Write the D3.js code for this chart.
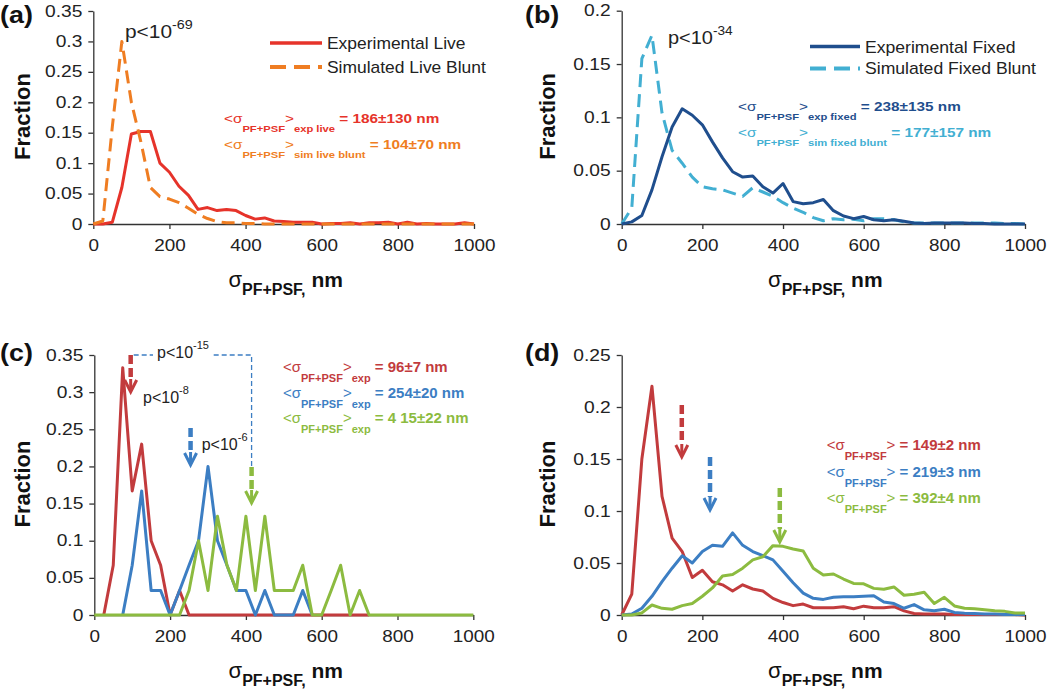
<!DOCTYPE html>
<html>
<head>
<meta charset="utf-8">
<title>Fraction vs sigma PF+PSF</title>
<script src="https://d3js.org/d3.v7.min.js"></script>
<style>
body { margin: 0; background: #fff; }
text { font-family: "Liberation Sans", Arial, Helvetica, sans-serif; fill: #222; white-space: pre; }
.axis path, .axis line { stroke: #333; stroke-width: 1.3; }
.axis text { font-size: 16px; fill: #222; }
.curve { fill: none; stroke-width: 3; stroke-linejoin: round; }
</style>
</head>
<body>
<script>
// 25 nm bins shared by every histogram
var bins = [0, 25, 50, 75, 100, 125, 150, 175, 200, 225, 250, 275, 300, 325, 350, 375, 400,
            425, 450, 475, 500, 525, 550, 575, 600, 625, 650, 675, 700, 725, 750, 775, 800,
            825, 850, 875, 900, 925, 950, 975, 1000];

var xTicks = [0, 200, 400, 600, 800, 1000];
var yTicksA = [0, 0.05, 0.1, 0.15, 0.2, 0.25, 0.3, 0.35];
var yTicksB = [0, 0.05, 0.1, 0.15, 0.2];
var yTicksC = [0, 0.05, 0.1, 0.15, 0.2, 0.25, 0.3, 0.35];
var yTicksD = [0, 0.05, 0.1, 0.15, 0.2, 0.25];

// (a)
var expLive = [0, 0, 0.003, 0.06, 0.148, 0.152, 0.152, 0.1, 0.085, 0.062, 0.047, 0.024, 0.027,
               0.022, 0.024, 0.022, 0.014, 0.008, 0.01, 0.005, 0.004, 0.003, 0.003, 0.003, 0,
               0.001, 0.001, 0.002, 0, 0.002, 0.002, 0.003, 0, 0.003, 0, 0.001, 0, 0, 0, 0.002, 0];
var simLive = [0, 0.005, 0.16, 0.3, 0.2, 0.135, 0.06, 0.045, 0.041, 0.035, 0.026, 0.016, 0.009,
               0.004, 0.002, 0.002, 0.001, 0.001, 0, 0, 0, 0, 0, 0, 0, 0, 0, 0, 0, 0, 0, 0, 0,
               0, 0, 0, 0, 0, 0, 0, 0];
// (b)
var expFixed = [0, 0.002, 0.008, 0.032, 0.063, 0.091, 0.108, 0.102, 0.093, 0.077, 0.062, 0.049,
                0.044, 0.045, 0.035, 0.029, 0.038, 0.021, 0.019, 0.02, 0.023, 0.0125, 0.0075,
                0.005, 0.007, 0.004, 0.003, 0.004, 0.0025, 0.001, 0.0005, 0.001, 0.001, 0.001,
                0.001, 0.0005, 0.0005, 0, 0, 0, 0];
var simFixed = [0, 0.015, 0.155, 0.177, 0.104, 0.069, 0.057, 0.044, 0.035, 0.033, 0.032, 0.029,
                0.026, 0.034, 0.03, 0.026, 0.02, 0.015, 0.011, 0.006, 0.003, 0.005, 0.004, 0.0045,
                0.003, 0.005, 0.005, 0.004, 0.002, 0.001, 0.001, 0.001, 0.001, 0.001, 0.001,
                0.001, 0.001, 0.001, 0.0005, 0.0005, 0];
// (c)
var cRed = [null, 0, 0.067, 0.333, 0.167, 0.23, 0.1, 0.067, 0, 0.033, 0, 0, 0, 0, 0, 0, 0, 0,
            0, 0, 0, 0, 0, 0, 0, 0, 0, 0, 0, 0, null, null, null, null, null, null, null, null,
            null, null, null];
var cBlue = [null, null, null, 0, 0.067, 0.167, 0.033, 0.033, 0, 0.033, 0.067, 0.1, 0.2, 0.1,
             0.067, 0.033, 0.033, 0, 0.033, 0, 0, 0, 0.033, 0, null, null, null, null, null,
             null, null, null, null, null, null, null, null, null, null, null, null];
var cGreen = [0, 0, 0, 0, 0, 0, 0, 0, 0, 0, 0.033, 0.1, 0.033, 0.133, 0.067, 0.033, 0.133, 0.033,
              0.133, 0.033, 0.033, 0.033, 0.067, 0, 0, 0.033, 0.067, 0, 0.033, 0, 0, 0, 0, 0, 0,
              0, 0, 0, 0, 0, 0];
// (d)
var dRed = [0, 0.02, 0.15, 0.22, 0.114, 0.074, 0.061, 0.036, 0.043, 0.032, 0.029, 0.023, 0.029,
            0.025, 0.023, 0.016, 0.012, 0.009, 0.0105, 0.007, 0.007, 0.007, 0.008, 0.006, 0.0085,
            0.007, 0.007, 0.008, 0.004, 0.0015, 0.001, 0.001, 0.001, 0.0005, 0.0005, 0.0005,
            0.0005, 0.0005, 0.0005, 0.0005, 0];
var dBlue = [0, 0.001, 0.0065, 0.018, 0.032, 0.045, 0.057, 0.05, 0.061, 0.067, 0.066, 0.079,
             0.067, 0.061, 0.057, 0.053, 0.042, 0.031, 0.021, 0.016, 0.015, 0.017, 0.0175,
             0.0175, 0.018, 0.0185, 0.0125, 0.011, 0.0065, 0.01, 0.005, 0.004, 0.0055, 0.0025,
             0.0018, 0.0015, 0.001, 0.001, 0.0005, 0.0005, 0.0005];
var dGreen = [0, 0, 0.002, 0.0096, 0.0064, 0.0055, 0.009, 0.011, 0.018, 0.026, 0.0375, 0.039,
              0.045, 0.053, 0.056, 0.0667, 0.066, 0.0635, 0.0615, 0.045, 0.0385, 0.0394, 0.0346,
              0.0304, 0.03, 0.0256, 0.0247, 0.027, 0.019, 0.02, 0.0218, 0.011, 0.017, 0.0087,
              0.0065, 0.006, 0.005, 0.004, 0.0035, 0.002, 0.002];

var legendA = ["Experimental Live", "Simulated Live Blunt"];
var legendB = ["Experimental Fixed", "Simulated Fixed Blunt"];
var meansC = [96, 254, 415];
var meansD = [149, 219, 392];

var RED = "#e6332a", ORANGE = "#ef7d22", NAVY = "#1f4e8d", SKY = "#42afd2";
var BRICK = "#c23b3d", BLUE = "#3c7ec3", GREEN = "#8cbb40";

var svg = d3.select("body").append("svg")
    .attr("width", 1050)
    .attr("height", 691);

var fmtY = d3.format("~g"),
    fmtX = d3.format("d");

// draws a <text> made of tspans, optionally stretched horizontally
function rich(parent, x, y, parts, sx, anchor) {
  var g = parent.append("g")
      .attr("transform", "translate(" + x + "," + y + ") scale(" + (sx || 1) + ",1)");
  var t = g.append("text").attr("text-anchor", anchor || "start");
  parts.forEach(function(p) {
    t.append("tspan")
      .attr("dy", p.dy || 0)
      .style("font-size", p.size + "px")
      .style("font-weight", p.bold ? "bold" : "normal")
      .style("fill", p.color || "#222")
      .text(p.text);
  });
  return g;
}

function meanLabel(parent, x, y, color, sub, value, big, small, sx) {
  var parts = [
    {text: "<σ", size: big, color: color},
    {text: "PF+PSF", size: small, bold: true, color: color, dy: 10},
    {text: ">", size: big, color: color, dy: -10}
  ];
  if (sub) {
    parts.push({text: sub, size: small, bold: true, color: color, dy: 10});
    parts.push({text: " = " + value, size: big, bold: true, color: color, dy: -10});
  } else {
    parts.push({text: " = " + value, size: big, bold: true, color: color});
  }
  rich(parent, x, y, parts, sx);
}

function pValue(parent, x, y, exp, size, sx) {
  rich(parent, x, y, [
    {text: "p<10", size: size},
    {text: exp, size: Math.round(size * 0.68), dy: -9}
  ], sx);
}

function arrow(parent, x, yTop, yTip, color) {
  parent.append("line")
    .attr("x1", x).attr("x2", x).attr("y1", yTop).attr("y2", yTip - 13)
    .attr("stroke", color).attr("stroke-width", 4.5).attr("stroke-dasharray", "9,4");
  parent.append("line")
    .attr("x1", x).attr("x2", x).attr("y1", yTip - 13).attr("y2", yTip - 1)
    .attr("stroke", color).attr("stroke-width", 3);
  parent.append("path")
    .attr("d", "M" + (x - 6) + "," + (yTip - 12) + "L" + x + "," + yTip + "L" + (x + 6) + "," + (yTip - 12))
    .attr("fill", "none").attr("stroke", color).attr("stroke-width", 3);
}

function panel(p) {
  var x = d3.scaleLinear().domain([0, 1000]).range([p.left, p.right]);
  var y = d3.scaleLinear().domain([0, p.yMax]).range([p.bottom, p.top]);
  var g = svg.append("g");

  g.append("g").attr("class", "axis")
      .attr("transform", "translate(0," + p.bottom + ")")
      .call(d3.axisBottom(x).tickValues(xTicks).tickFormat(fmtX).tickSize(5).tickSizeOuter(0).tickPadding(11))
    .selectAll("text")
      .attr("transform", "scale(1.18,1)");

  g.append("g").attr("class", "axis")
      .attr("transform", "translate(" + p.left + ",0)")
      .call(d3.axisLeft(y).tickValues(p.yTicks).tickFormat(fmtY).tickSize(5).tickSizeOuter(0))
    .selectAll("text")
      .attr("x", -11 / 1.2)
      .attr("transform", "scale(1.2,1)");

  var line = d3.line()
      .defined(function(d) { return d[1] !== null; })
      .x(function(d) { return x(d[0]); })
      .y(function(d) { return y(d[1]); });

  p.series.forEach(function(s) {
    g.append("path")
      .datum(bins.map(function(b, i) { return [b, s.values[i]]; }))
      .attr("class", "curve")
      .attr("stroke", s.color)
      .attr("stroke-width", s.dash ? 3.5 : 3)
      .attr("stroke-dasharray", s.dash || null)
      .attr("d", line);
  });

  // panel letter
  rich(g, p.ox, p.oy + 22.5, [{text: p.letter, size: 24, bold: true, color: "#111"}], 1.12);

  // y title
  g.append("text")
    .attr("transform", "translate(" + (p.ox + 29.5) + "," + ((p.top + p.bottom) / 2 - 1) + ") rotate(-90)")
    .attr("text-anchor", "middle")
    .style("font-size", "22px").style("font-weight", "bold")
    .style("fill", "#111")
    .text("Fraction");

  // x title
  rich(g, (p.left + p.right) / 2 + 2, p.bottom + 63, [
    {text: "σ", size: 22, color: "#111"},
    {text: "PF+PSF,", size: 16, bold: true, color: "#111", dy: 8},
    {text: " nm", size: 21, bold: true, color: "#111", dy: -8}
  ], 1, "middle");

  return {x: x, y: y, g: g};
}

// ---- (a)
var pa = panel({letter: "(a)", ox: 0, oy: 0, left: 93.3, right: 474, top: 11, bottom: 224,
  yMax: 0.35, yTicks: yTicksA,
  series: [{values: expLive, color: RED}, {values: simLive, color: ORANGE, dash: "13,7"}]});

pa.g.append("line").attr("x1", 270).attr("x2", 322).attr("y1", 43).attr("y2", 43)
  .attr("stroke", RED).attr("stroke-width", 3.5);
pa.g.append("line").attr("x1", 270).attr("x2", 322).attr("y1", 67).attr("y2", 67)
  .attr("stroke", ORANGE).attr("stroke-width", 4).attr("stroke-dasharray", "16,8");
rich(pa.g, 327, 49, [{text: legendA[0], size: 16}], 1.09);
rich(pa.g, 327, 73, [{text: legendA[1], size: 16}], 1.09);
pValue(pa.g, 125, 37.5, "-69", 19, 1.1);
meanLabel(pa.g, 224, 122.5, RED, "exp live", "186±130 nm", 13, 9.5, 1.18);
meanLabel(pa.g, 224, 148.5, ORANGE, "sim live blunt", "104±70 nm", 13, 9.5, 1.18);

// ---- (b)
var pb = panel({letter: "(b)", ox: 525, oy: 0, left: 621.7, right: 1025, top: 10.7, bottom: 224,
  yMax: 0.2, yTicks: yTicksB,
  series: [{values: simFixed, color: SKY, dash: "13,7"}, {values: expFixed, color: NAVY}]});

pb.g.append("line").attr("x1", 810).attr("x2", 860).attr("y1", 46.5).attr("y2", 46.5)
  .attr("stroke", NAVY).attr("stroke-width", 3.5);
pb.g.append("line").attr("x1", 810).attr("x2", 860).attr("y1", 68.5).attr("y2", 68.5)
  .attr("stroke", SKY).attr("stroke-width", 4).attr("stroke-dasharray", "16,8");
rich(pb.g, 865, 52.5, [{text: legendB[0], size: 16}], 1.1);
rich(pb.g, 865, 74, [{text: legendB[1], size: 16}], 1.1);
pValue(pb.g, 668, 43.5, "-34", 19, 1.05);
meanLabel(pb.g, 738, 110.5, NAVY, "exp fixed", "238±135 nm", 13, 9.5, 1.18);
meanLabel(pb.g, 738, 136.5, SKY, "sim fixed blunt", "177±157 nm", 13, 9.5, 1.18);

// ---- (c)
var pc = panel({letter: "(c)", ox: 0, oy: 338, left: 94.3, right: 473.3, top: 355, bottom: 615,
  yMax: 0.35, yTicks: yTicksC,
  series: [{values: cRed, color: BRICK}, {values: cBlue, color: BLUE}, {values: cGreen, color: GREEN}]});

var cx = pc.x;
pc.g.append("path")
  .attr("d", "M" + (cx(meansC[0]) + 3) + ",355H" + cx(meansC[2]) + "V466")
  .attr("fill", "none").attr("stroke", BLUE).attr("stroke-width", 1.3).attr("stroke-dasharray", "5,3");
pc.g.append("rect").attr("x", 153).attr("y", 342).attr("width", 58).attr("height", 20).attr("fill", "#fff");
pValue(pc.g, 157, 358, "-15", 16, 1);
pValue(pc.g, 143, 403, "-8", 16, 1);
pValue(pc.g, 201.7, 450, "-6", 16, 1);
arrow(pc.g, cx(meansC[0]), 355, 392, BRICK);
arrow(pc.g, cx(meansC[1]), 428, 465, BLUE);
arrow(pc.g, cx(meansC[2]), 467, 503, GREEN);
meanLabel(pc.g, 283, 372, BRICK, "exp", "96±7 nm", 15, 11, 1);
meanLabel(pc.g, 283, 397.5, BLUE, "exp", "254±20 nm", 15, 11, 1);
meanLabel(pc.g, 283, 423.3, GREEN, "exp", "4 15±22 nm", 15, 11, 1);

// ---- (d)
var pd = panel({letter: "(d)", ox: 525, oy: 338, left: 621.7, right: 1025, top: 355, bottom: 615,
  yMax: 0.25, yTicks: yTicksD,
  series: [{values: dRed, color: BRICK}, {values: dBlue, color: BLUE}, {values: dGreen, color: GREEN}]});

var dx = pd.x;
arrow(pd.g, dx(meansD[0]), 405, 457, BRICK);
arrow(pd.g, dx(meansD[1]), 457, 510, BLUE);
arrow(pd.g, dx(meansD[2]), 488, 542, GREEN);
meanLabel(pd.g, 826.7, 450, BRICK, null, "149±2 nm", 15, 11, 1);
meanLabel(pd.g, 826.7, 476.5, BLUE, null, "219±3 nm", 15, 11, 1);
meanLabel(pd.g, 826.7, 502.7, GREEN, null, "392±4 nm", 15, 11, 1);
</script>
</body>
</html>
